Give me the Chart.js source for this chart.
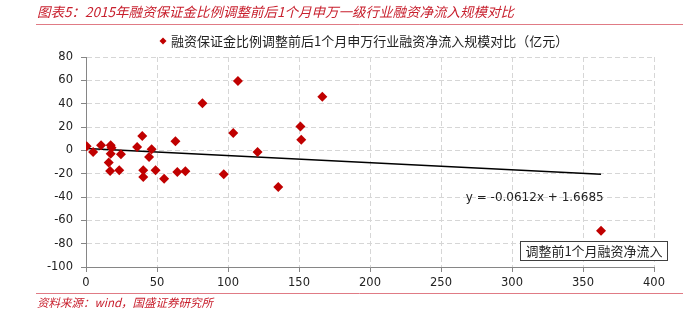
<!DOCTYPE html>
<html>
<head>
<meta charset="utf-8">
<script src="https://cdn.jsdelivr.net/npm/chart.js@4.4.0/dist/chart.umd.min.js"></script>
<style>
  html, body { margin: 0; padding: 0; background: #fff; }
</style>
</head>
<body>
<canvas id="chart" width="683" height="313"></canvas>
<script>
// data
const inflowX = [0.5, 5, 10.6, 17.4, 18, 17.4, 16, 17, 23.4, 24.6, 36, 39.6, 46.2, 44.4, 40.3, 40.3, 49, 55, 63, 64.3, 70, 82, 97, 107, 103.7, 120.8, 135.4, 151, 151.6, 166.4, 362.7];
const inflowY = [3.4, -1.5, 4.3, 4.3, 2.3, -2.9, -10.5, -17.7, -17, -3.4, 2.9, 12.3, 0.9, -5.7, -17, -22.8, -17, -24.3, 7.7, -18.6, -18, 40.3, -20.6, 59.4, 14.8, -1.5, -31.4, 20.5, 9.1, 46, -69];
const trendSlope = -0.0612;
const trendIntercept = 1.6685;
const xTicks = [0, 50, 100, 150, 200, 250, 300, 350, 400];
const yTicks = [-100, -80, -60, -40, -20, 0, 20, 40, 60, 80];

const titleText = '图表5：2015年融资保证金比例调整前后1个月申万一级行业融资净流入规模对比';
const legendText = '融资保证金比例调整前后1个月申万行业融资净流入规模对比（亿元）';
const equationText = 'y = -0.0612x + 1.6685';
const boxText = '调整前1个月融资净流入';
const sourceText = '资料来源：wind，国盛证券研究所';

const RED = '#c00000';
const CJK = '"Noto Sans CJK SC", sans-serif';

const points = inflowX.map((x, i) => ({ x, y: inflowY[i] }));
const xMin = Math.min(...inflowX);
const xMax = Math.max(...inflowX);
const trendPoints = [
  { x: xMin, y: trendSlope * xMin + trendIntercept },
  { x: xMax, y: trendSlope * xMax + trendIntercept }
];

// title, red rules, legend, equation, label box, source
const decorPlugin = {
  id: 'decor',
  afterDraw(chart) {
    const { ctx, scales } = chart;
    ctx.save();
    ctx.textBaseline = 'middle';

    ctx.fillStyle = '#c8202e';
    ctx.font = 'italic 13.5px ' + CJK;
    ctx.fillText(titleText, 37, 12);

    ctx.strokeStyle = '#e07b85';
    ctx.lineWidth = 1;
    ctx.beginPath();
    ctx.moveTo(36, 24.5); ctx.lineTo(683, 24.5);
    ctx.moveTo(36, 293.5); ctx.lineTo(683, 293.5);
    ctx.stroke();

    ctx.fillStyle = '#c8202e';
    ctx.font = 'italic 11.5px ' + CJK;
    ctx.fillText(sourceText, 37, 303);

    // legend
    ctx.fillStyle = RED;
    ctx.beginPath();
    ctx.moveTo(163, 37.5); ctx.lineTo(166.5, 41); ctx.lineTo(163, 44.5); ctx.lineTo(159.5, 41);
    ctx.closePath(); ctx.fill();
    ctx.fillStyle = '#222';
    ctx.font = '13px ' + CJK;
    ctx.fillText(legendText, 171, 41);

    // trend equation
    ctx.font = '12px "DejaVu Sans", sans-serif';
    ctx.textAlign = 'center';
    ctx.fillText(equationText, scales.x.getPixelForValue(316), scales.y.getPixelForValue(-40.5));

    // label box
    const bx = 520.5, by = 241.5, bw = 147, bh = 19;
    ctx.fillStyle = '#fff';
    ctx.fillRect(bx, by, bw, bh);
    ctx.strokeStyle = '#404040';
    ctx.strokeRect(bx, by, bw, bh);
    ctx.fillStyle = '#222';
    ctx.font = '13px ' + CJK;
    ctx.fillText(boxText, bx + bw / 2, by + bh / 2 + 0.5);
    ctx.restore();
  }
};

const tickFont = { family: '"DejaVu Sans", sans-serif', size: 11.5 };

new Chart(document.getElementById('chart'), {
  type: 'scatter',
  data: {
    datasets: [
      {
        label: legendText,
        data: points,
        pointStyle: 'rectRot',
        pointRadius: 5,
        pointHoverRadius: 5,
        backgroundColor: RED,
        borderColor: RED,
        borderWidth: 0
      },
      {
        type: 'line',
        label: 'trend',
        data: trendPoints,
        borderColor: '#000',
        borderWidth: 1.5,
        pointRadius: 0,
        fill: false
      }
    ]
  },
  options: {
    responsive: false,
    animation: false,
    layout: { padding: { left: 0, right: 29, top: 57, bottom: 0 } },
    plugins: { legend: { display: false }, title: { display: false }, tooltip: { enabled: false } },
    scales: {
      x: {
        type: 'linear',
        min: 0, max: 400,
        afterBuildTicks: (s) => { s.ticks = xTicks.map(v => ({ value: v })); },
        afterFit: (s) => { s.height = 46; },
        ticks: { color: '#222', font: tickFont, padding: 4, maxRotation: 0 },
        grid: { color: '#d6d6d6', tickColor: '#868686', tickLength: 5, tickBorderDash: [] },
        border: { color: '#868686', width: 1, dash: [5, 3] }
      },
      y: {
        type: 'linear',
        min: -100, max: 80,
        afterBuildTicks: (s) => { s.ticks = yTicks.map(v => ({ value: v })); },
        afterFit: (s) => { s.width = 86; },
        ticks: { color: '#222', font: tickFont, padding: 8 },
        grid: { color: '#d6d6d6', tickColor: '#868686', tickLength: 5, tickBorderDash: [] },
        border: { color: '#868686', width: 1, dash: [5, 3] }
      }
    }
  },
  plugins: [decorPlugin]
});
</script>
</body>
</html>
